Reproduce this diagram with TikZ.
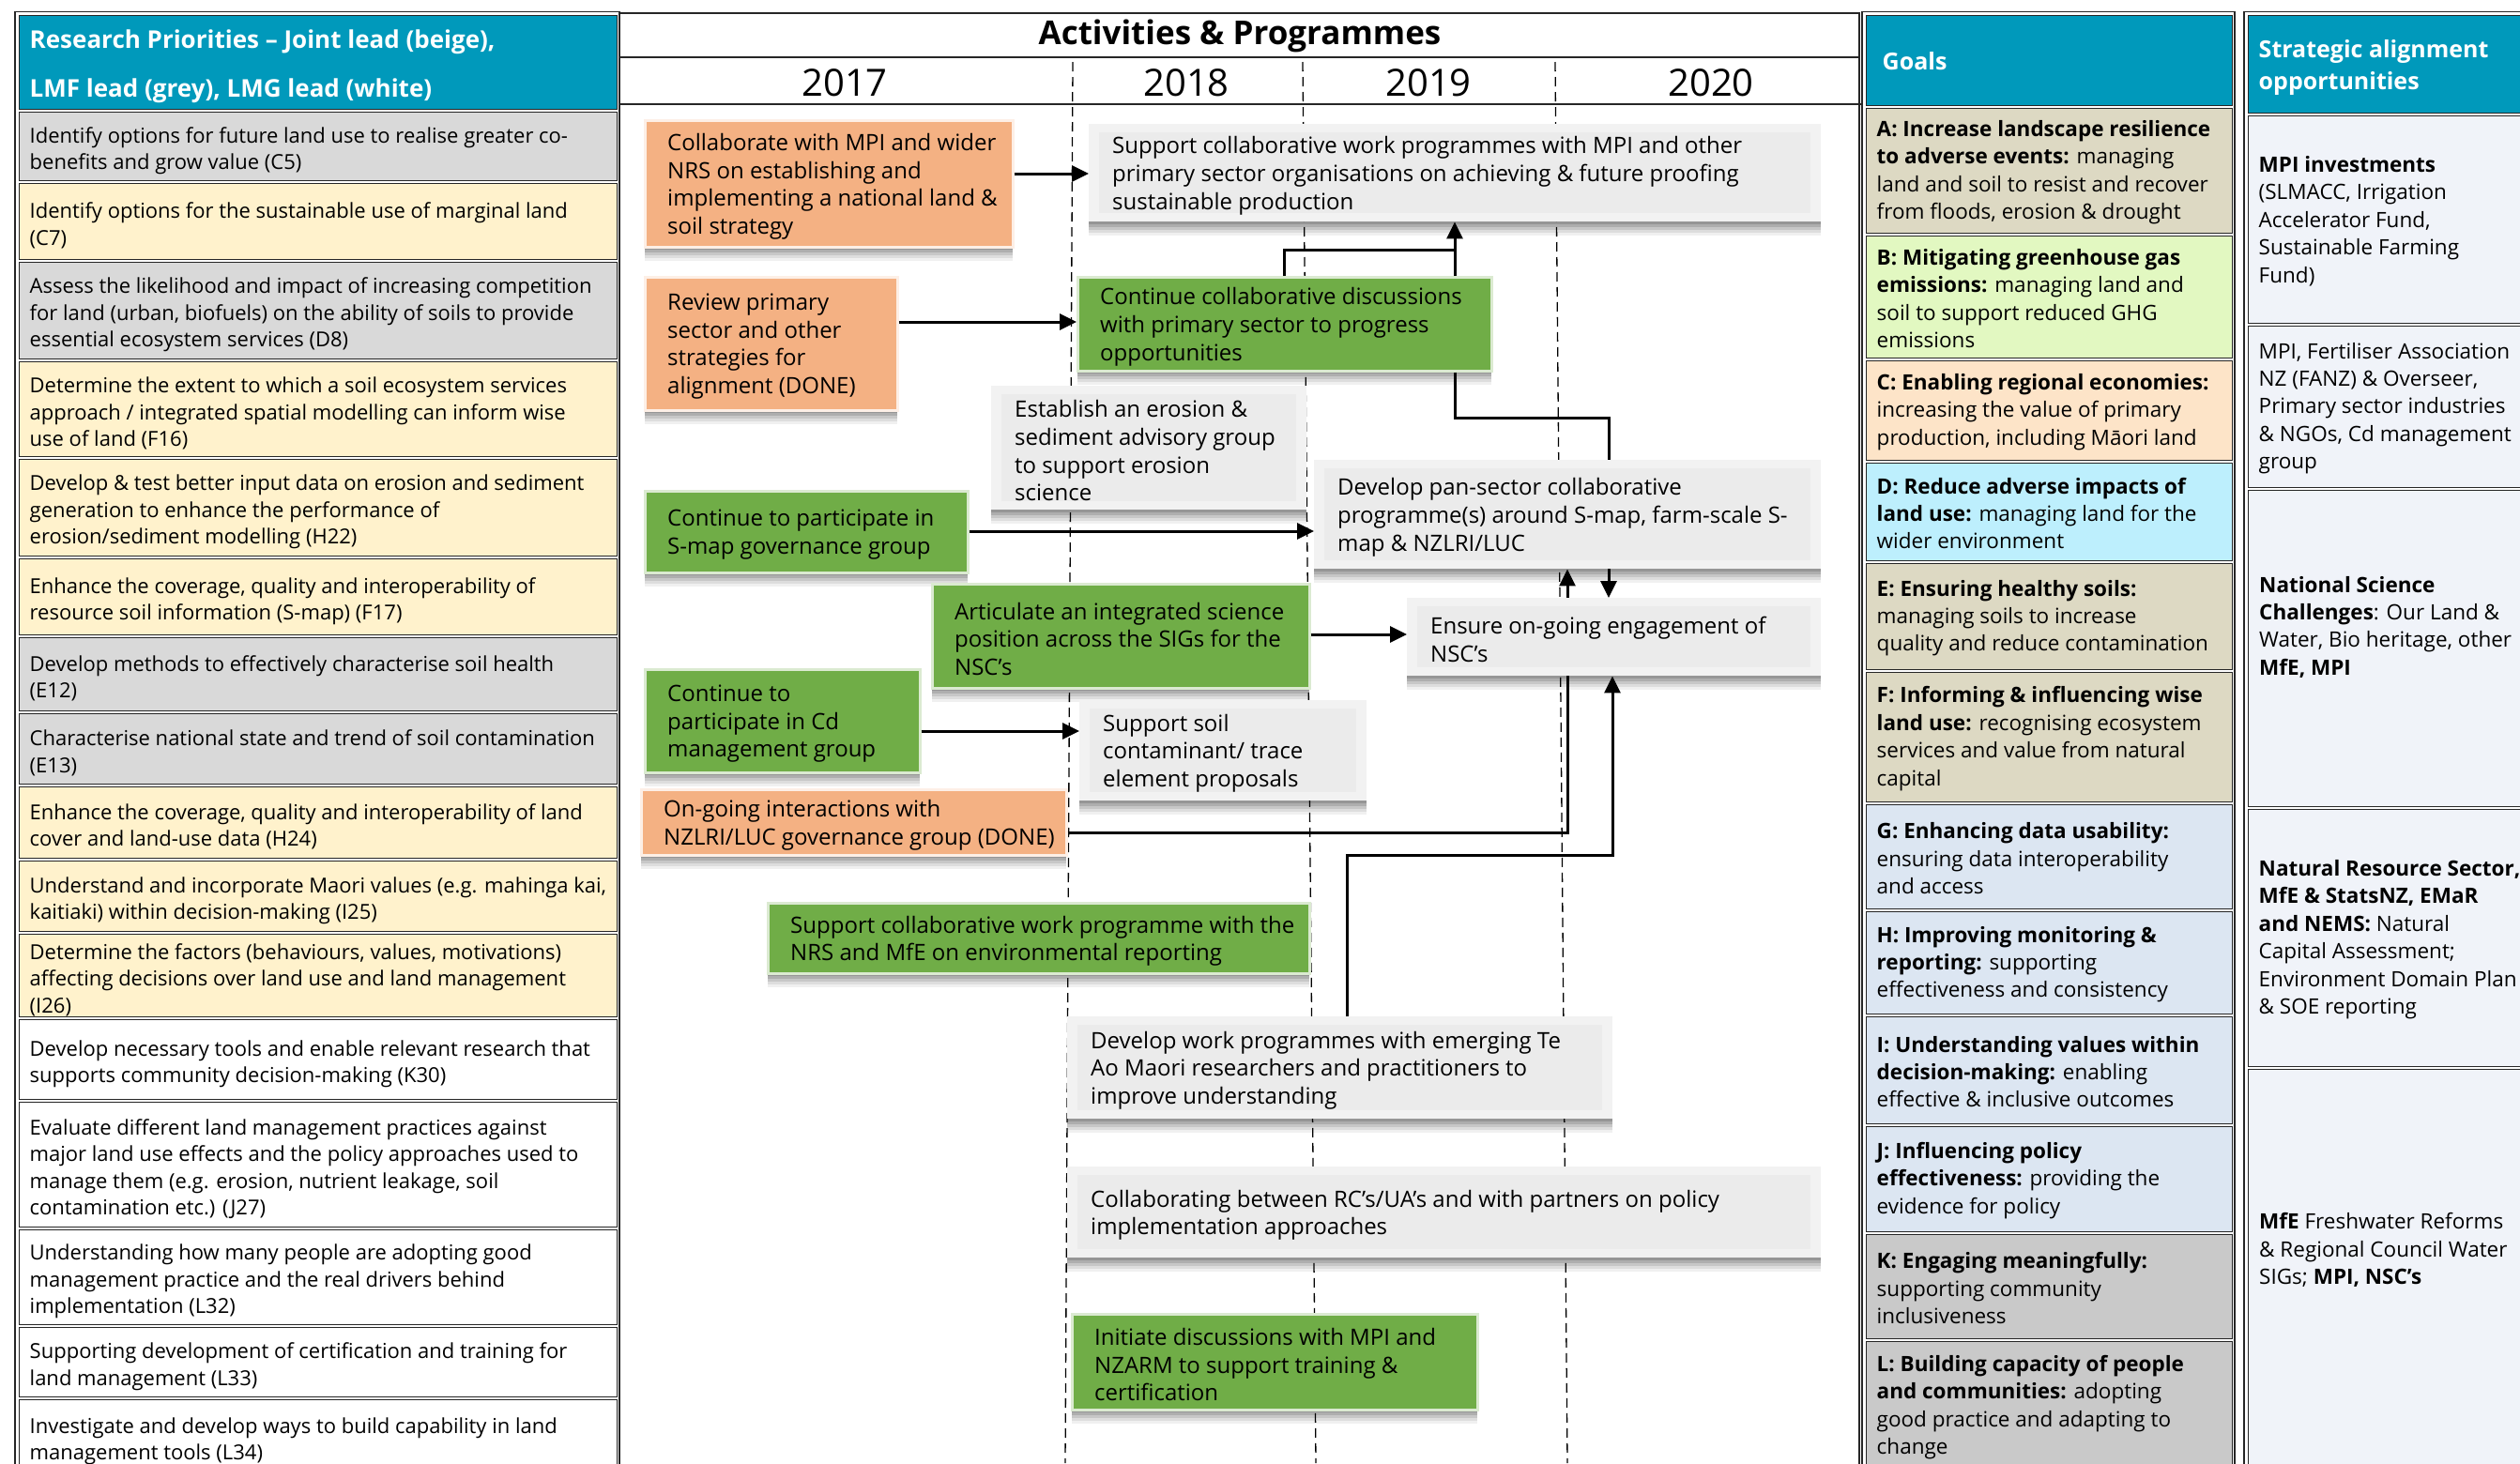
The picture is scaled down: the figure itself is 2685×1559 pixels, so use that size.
\documentclass[tikz,border=0pt]{standalone}
\usepackage{fontspec}
\setmainfont{Open Sans}
\usetikzlibrary{arrows.meta,shadows}

\definecolor{hdrteal}{RGB}{0,153,187}
\definecolor{cellgrey}{RGB}{217,217,217}
\definecolor{cellbeige}{RGB}{255,242,204}
\definecolor{goaltan}{RGB}{221,217,195}
\definecolor{goallime}{RGB}{226,248,193}
\definecolor{goalpeach}{RGB}{253,228,200}
\definecolor{goalcyan}{RGB}{189,239,253}
\definecolor{goalblue}{RGB}{220,230,242}
\definecolor{goalgrey}{RGB}{201,201,201}
\definecolor{stratfill}{RGB}{240,243,249}
\definecolor{actorange}{RGB}{244,177,131}
\definecolor{actgreen}{RGB}{112,173,71}
\definecolor{greyout}{RGB}{242,242,242}
\definecolor{greyin}{RGB}{235,235,235}

\newcommand\colfont{\fontsize{22}{28.5}\selectfont}
\newcommand\midfont{\fontsize{24}{29.6}\selectfont}
\newcommand\goalfont{\fontsize{22.5}{29.4}\selectfont}

% table cell: name, fill, x1, x2, top, bottom, text, text style
\newcommand\cellbox[8]{%
  \pgfmathsetmacro\cw{#4-#3-3}%
  \pgfmathsetmacro\ch{#6-#5-3}%
  \node[cell, fill=#2, minimum width=\cw pt, minimum height=\ch pt, anchor=north west] (#1) at (#3+1.5,#5+1.5) {};
  \node[celltext, #8, anchor=west] (#1t) at ([xshift=12pt]#1.west) {#7};}

% activity box: name, style, x1, y1, x2, y2, text
\newcommand\actbox[7]{%
  \pgfmathsetmacro\cw{#5-#3}%
  \pgfmathsetmacro\ch{#6-#4}%
  \node[#2, minimum width=\cw pt, minimum height=\ch pt, anchor=north west] (#1) at (#3,#4) {};
  \node[acttext, anchor=west] (#1t) at ([xshift=25pt]#1.west) {#7};}

\tikzset{
  cell/.style={draw=black!85, line width=1.1pt, inner sep=0pt},
  celltext/.style={align=left, inner sep=0pt, text=black, font=\colfont},
  lefttext/.style={yshift=-5pt},
  goaltext/.style={font=\goalfont, yshift=-2pt},
  hdrtext/.style={text=white, font=\fontsize{26}{52}\selectfont\bfseries, yshift=-5pt},
  sthdrtext/.style={text=white, font=\fontsize{25}{34}\selectfont\bfseries, yshift=-4pt},
  acttext/.style={align=left, inner sep=0pt, text=black, font=\midfont, yshift=-3pt},
  softshadow/.style={
    general shadow={fill=black, opacity=.15, shadow yshift=-3pt},
    general shadow={fill=black, opacity=.12, shadow yshift=-6pt},
    general shadow={fill=black, opacity=.10, shadow yshift=-9pt},
    general shadow={fill=black, opacity=.08, shadow yshift=-12pt},
    general shadow={fill=black, opacity=.06, shadow yshift=-15pt}},
  orgbox/.style={softshadow, fill=actorange, draw=white!80!actorange, line width=2.5pt, inner sep=0pt},
  grnbox/.style={softshadow, fill=actgreen, draw=white!75!actgreen, line width=2.5pt, inner sep=0pt},
  gbox/.style={softshadow, fill=greyout, inner sep=0pt,
    path picture={\fill[greyin] ([shift={(11pt,-9pt)}]path picture bounding box.north west)
      rectangle ([shift={(-11pt,9pt)}]path picture bounding box.south east);}},
  arr/.style={line width=3pt, -{Triangle[length=18pt,width=17pt]}},
  link/.style={line width=3pt},
  yeardash/.style={line width=1.3pt, dash pattern=on 10pt off 6pt},
  frame/.style={draw=black!85, line width=1.1pt},
}

\begin{document}
\begin{tikzpicture}[x=1pt,y=-1pt]
\useasboundingbox (0,0) rectangle (2685,1559);
\clip (0,0) rectangle (2685,1559);

% ---------- research priorities column ----------
\draw[frame] (16,12.5) rectangle (660,1600);
\cellbox{lh}{hdrteal}{18}{658}{14}{117}{Research Priorities -- Joint lead (beige),\\LMF lead (grey), LMG lead (white)}{hdrtext}
\cellbox{r1}{cellgrey}{18}{658}{117}{193}{Identify options for future land use to realise greater co-\\benefits and grow value (C5)}{lefttext}
\cellbox{r2}{cellbeige}{18}{658}{193}{277}{Identify options for the sustainable use of marginal land\\(C7)}{lefttext}
\cellbox{r3}{cellgrey}{18}{658}{277}{383}{Assess the likelihood and impact of increasing competition\\for land (urban, biofuels) on the ability of soils to provide\\essential ecosystem services (D8)}{lefttext}
\cellbox{r4}{cellbeige}{18}{658}{383}{487}{Determine the extent to which a soil ecosystem services\\approach / integrated spatial modelling can inform wise\\use of land (F16)}{lefttext}
\cellbox{r5}{cellbeige}{18}{658}{487}{593}{Develop \& test better input data on erosion and sediment\\generation to enhance the performance of\\erosion/sediment modelling (H22)}{lefttext}
\cellbox{r6}{cellbeige}{18}{658}{593}{677}{Enhance the coverage, quality and interoperability of\\resource soil information (S-map) (F17)}{lefttext}
\cellbox{r7}{cellgrey}{18}{658}{677}{758}{Develop methods to effectively characterise soil health\\(E12)}{lefttext}
\cellbox{r8}{cellgrey}{18}{658}{758}{836}{Characterise national state and trend of soil contamination\\(E13)}{lefttext}
\cellbox{r9}{cellbeige}{18}{658}{836}{915}{Enhance the coverage, quality and interoperability of land\\cover and land-use data (H24)}{lefttext}
\cellbox{r10}{cellbeige}{18}{658}{915}{993}{Understand and incorporate Maori values (e.g. mahinga kai,\\kaitiaki) within decision-making (I25)}{lefttext}
\cellbox{r11}{cellbeige}{18}{658}{993}{1084}{Determine the factors (behaviours, values, motivations)\\affecting decisions over land use and land management\\(I26)}{lefttext}
\cellbox{r12}{white}{18}{658}{1084}{1172}{Develop necessary tools and enable relevant research that\\supports community decision-making (K30)}{lefttext}
\cellbox{r13}{white}{18}{658}{1172}{1308}{Evaluate different land management practices against\\major land use effects and the policy approaches used to\\manage them (e.g. erosion, nutrient leakage, soil\\contamination etc.) (J27)}{lefttext}
\cellbox{r14}{white}{18}{658}{1308}{1412}{Understanding how many people are adopting good\\management practice and the real drivers behind\\implementation (L32)}{lefttext}
\cellbox{r15}{white}{18}{658}{1412}{1489}{Supporting development of certification and training for\\land management (L33)}{lefttext}
\cellbox{r16}{white}{18}{658}{1489}{1571}{Investigate and develop ways to build capability in land\\management tools (L34)}{lefttext}

% ---------- activities panel ----------
\draw[frame] (660,14) -- (1982,14);
\draw[frame] (660,61) -- (1982,61);
\draw[frame] (660,111) -- (1984,111);
\draw[frame] (1981,14) -- (1981,1600);
\node[font=\fontsize{35}{35}\selectfont\bfseries, inner sep=0pt] (title) at (1321,38) {Activities \& Programmes};
\node[font=\fontsize{40}{40}\selectfont, inner sep=0pt] (y17) at (900,88) {2017};
\node[font=\fontsize{40}{40}\selectfont, inner sep=0pt] (y18) at (1264,88) {2018};
\node[font=\fontsize{40}{40}\selectfont, inner sep=0pt] (y19) at (1522,88) {2019};
\node[font=\fontsize{40}{40}\selectfont, inner sep=0pt] (y20) at (1823,88) {2020};

% year dividers
\draw[yeardash] (1143,66) -- (1135,1559);
\draw[yeardash] (1388,66) -- (1402,1559);
\draw[yeardash] (1657,66) -- (1670,1559);

% activity boxes
\actbox{b1}{orgbox}{686}{127}{1078}{262}{Collaborate with MPI and wider\\NRS on establishing and\\implementing a national land \&\\soil strategy}
\actbox{b2}{gbox}{1160}{132}{1940}{236}{Support collaborative work programmes with MPI and other\\primary sector organisations on achieving \& future proofing\\sustainable production}
\actbox{b3}{orgbox}{686}{294}{955}{436}{Review primary\\sector and other\\strategies for\\alignment (DONE)}
\actbox{b4}{grnbox}{1147}{294}{1588}{394}{Continue collaborative discussions\\with primary sector to progress\\opportunities}
\actbox{b5}{gbox}{1056}{411}{1392}{543}{Establish an erosion \&\\sediment advisory group\\to support erosion\\science}
\actbox{b6}{gbox}{1400}{490}{1940}{606}{Develop pan-sector collaborative\\programme(s) around S-map, farm-scale S-\\map \& NZLRI/LUC}
\actbox{b7}{grnbox}{686}{522}{1030}{609}{Continue to participate in\\S-map governance group}
\actbox{b8}{grnbox}{992}{621}{1394}{732}{Articulate an integrated science\\position across the SIGs for the\\NSC’s}
\actbox{b9}{gbox}{1499}{637}{1940}{720}{Ensure on-going engagement of\\NSC’s}
\actbox{b10}{grnbox}{686}{712}{979}{822}{Continue to\\participate in Cd\\management group}
\actbox{b11}{gbox}{1150}{746}{1456}{853}{Support soil\\contaminant/ trace\\element proposals}
\actbox{b12}{orgbox}{682}{840}{1135}{910}{On-going interactions with\\NZLRI/LUC governance group (DONE)}
\actbox{b13}{grnbox}{817}{961}{1394}{1036}{Support collaborative work programme with the\\NRS and MfE on environmental reporting}
\actbox{b14}{gbox}{1137}{1083}{1718}{1192}{Develop work programmes with emerging Te\\Ao Maori researchers and practitioners to\\improve understanding}
\actbox{b15}{gbox}{1137}{1243}{1940}{1340}{Collaborating between RC’s/UA’s and with partners on policy\\implementation approaches}
\actbox{b16}{grnbox}{1141}{1399}{1573}{1501}{Initiate discussions with MPI and\\NZARM to support training \&\\certification}

% connectors
\coordinate (a1) at (0,185);
\coordinate (a2) at (0,343);
\coordinate (a3) at (0,566);
\coordinate (a4) at (0,676);
\coordinate (a5) at (0,779);
\draw[arr] (b1.east |- a1) -- (b2.west |- a1);
\draw[arr] (b3.east |- a2) -- (b4.west |- a2);
\draw[arr] (b7.east |- a3) -- (b6.west |- a3);
\draw[arr] (b8.east |- a4) -- (b9.west |- a4);
\draw[arr] (b10.east |- a5) -- (b11.west |- a5);

\coordinate (j1) at (1368,266);
\coordinate (j2) at (1550,266);
\draw[link] (b4.north -| j1) -- (j1) -- (j2);
\draw[arr] (b4.north -| j2) -- (b2.south -| j2);

\coordinate (j3) at (1550,445);
\coordinate (j4) at (1714,445);
\draw[link] (b4.south -| j3) -- (j3) -- (j4) -- (b6.north -| j4);

\coordinate (u1) at (1670,620);
\coordinate (u2) at (1714,620);
\draw[arr] (b9.north -| u1) -- (b6.south -| u1);
\draw[arr] (b6.south -| u2) -- (b9.north -| u2);

\coordinate (k1) at (1670,887);
\draw[link] (b12.east |- k1) -- (k1) -- (b9.south -| k1);

\coordinate (m1) at (1435,911);
\coordinate (m2) at (1718,911);
\draw[arr] (b14.north -| m1) -- (m1) -- (m2) -- (b9.south -| m2);

% ---------- goals column ----------
\draw[frame] (1984,12.5) rectangle (2381,1600);
\cellbox{gh}{hdrteal}{1986}{2379}{14}{113}{Goals}{text=white, font=\fontsize{25}{30}\selectfont\bfseries, xshift=6pt, yshift=-1pt}
\cellbox{gA}{goaltan}{1986}{2379}{113}{249}{\textbf{A: Increase landscape resilience}\\\textbf{to adverse events:} managing\\land and soil to resist and recover\\from floods, erosion \& drought}{goaltext}
\cellbox{gB}{goallime}{1986}{2379}{249}{382}{\textbf{B: Mitigating greenhouse gas}\\\textbf{emissions:} managing land and\\soil to support reduced GHG\\emissions}{goaltext}
\cellbox{gC}{goalpeach}{1986}{2379}{382}{491}{\textbf{C: Enabling regional economies:}\\increasing the value of primary\\production, including Māori land}{goaltext}
\cellbox{gD}{goalcyan}{1986}{2379}{491}{598}{\textbf{D: Reduce adverse impacts of}\\\textbf{land use:} managing land for the\\wider environment}{goaltext}
\cellbox{gE}{goaltan}{1986}{2379}{598}{714}{\textbf{E: Ensuring healthy soils:}\\managing soils to increase\\quality and reduce contamination}{goaltext}
\cellbox{gF}{goaltan}{1986}{2379}{714}{855}{\textbf{F: Informing \& influencing wise}\\\textbf{land use:} recognising ecosystem\\services and value from natural\\capital}{goaltext}
\cellbox{gG}{goalblue}{1986}{2379}{855}{969}{\textbf{G: Enhancing data usability:}\\ensuring data interoperability\\and access}{goaltext}
\cellbox{gH}{goalblue}{1986}{2379}{969}{1081}{\textbf{H: Improving monitoring \&}\\\textbf{reporting:} supporting\\effectiveness and consistency}{goaltext}
\cellbox{gI}{goalblue}{1986}{2379}{1081}{1198}{\textbf{I: Understanding values within}\\\textbf{decision-making:} enabling\\effective \& inclusive outcomes}{goaltext}
\cellbox{gJ}{goalblue}{1986}{2379}{1198}{1313}{\textbf{J: Influencing policy}\\\textbf{effectiveness:} providing the\\evidence for policy}{goaltext}
\cellbox{gK}{goalgrey}{1986}{2379}{1313}{1427}{\textbf{K: Engaging meaningfully:}\\supporting community\\inclusiveness}{goaltext}
\cellbox{gL}{goalgrey}{1986}{2379}{1427}{1567}{\textbf{L: Building capacity of people}\\\textbf{and communities:} adopting\\good practice and adapting to\\change}{goaltext}

% ---------- strategic alignment column ----------
\draw[frame] (2391,12.5) rectangle (2740,1600);
\cellbox{sh}{hdrteal}{2393}{2738}{14}{121}{Strategic alignment\\opportunities}{sthdrtext}
\cellbox{s1}{stratfill}{2393}{2738}{121}{345}{\textbf{MPI investments}\\(SLMACC, Irrigation\\Accelerator Fund,\\Sustainable Farming\\Fund)}{goaltext}
\cellbox{s2}{stratfill}{2393}{2738}{345}{520}{MPI, Fertiliser Association\\NZ (FANZ) \& Overseer,\\Primary sector industries\\\& NGOs, Cd management\\group}{goaltext}
\cellbox{s3}{stratfill}{2393}{2738}{520}{860}{}{goaltext}
\cellbox{s4}{stratfill}{2393}{2738}{860}{1137}{\textbf{Natural Resource Sector,}\\\textbf{MfE \& StatsNZ, EMaR}\\\textbf{and NEMS:} Natural\\Capital Assessment;\\Environment Domain Plan\\\& SOE reporting}{goaltext}
\cellbox{s5}{stratfill}{2393}{2738}{1137}{1600}{}{goaltext}
\node[celltext, goaltext, anchor=west] (s3txt) at (2407,666) {\textbf{National Science}\\\textbf{Challenges}: Our Land \&\\Water, Bio heritage, other\\\textbf{MfE, MPI}};
\node[celltext, goaltext, anchor=west] (s5txt) at (2407,1330) {\textbf{MfE} Freshwater Reforms\\\& Regional Council Water\\SIGs; \textbf{MPI, NSC’s}};
\end{tikzpicture}
\end{document}
